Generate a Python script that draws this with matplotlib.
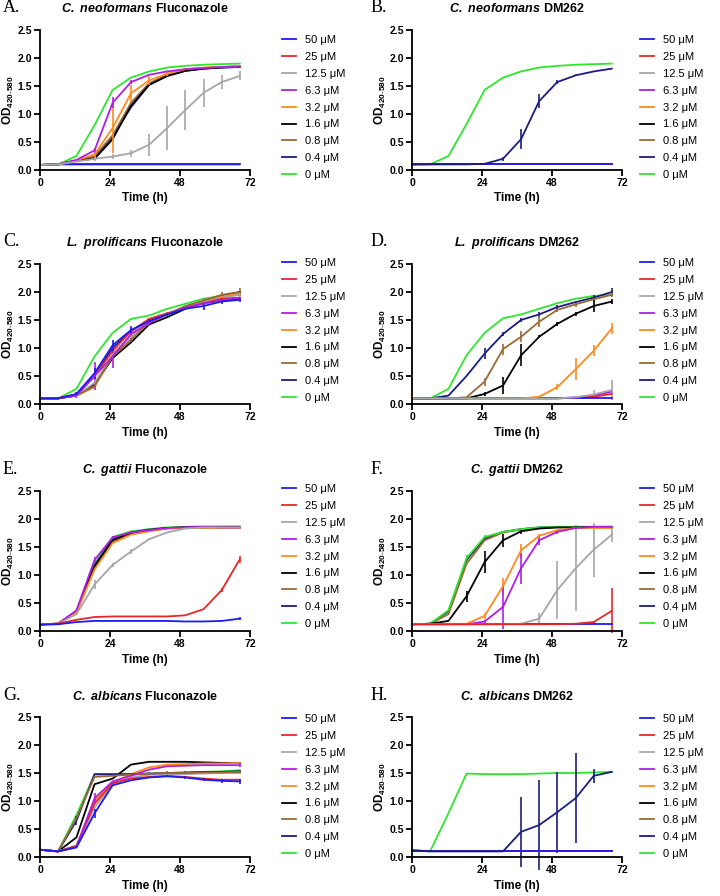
import matplotlib
matplotlib.use("Agg")
import matplotlib.pyplot as plt
from matplotlib.ticker import FormatStrFormatter

plt.rcParams["font.family"] = ["Liberation Sans", "DejaVu Sans"]
plt.rcParams["mathtext.fontset"] = "custom"
plt.rcParams["mathtext.rm"] = "Liberation Sans"
plt.rcParams["mathtext.bf"] = "Liberation Sans:bold"
plt.rcParams["mathtext.bfit"] = "Liberation Sans:italic:bold"

# sampling times (h)
times = [0, 6.2, 12.5, 18.7, 24.9, 31.2, 37.4, 43.6, 49.8, 56.1, 62.3, 68.5]

conc_labels = ["50 μM", "25 μM", "12.5 μM", "6.3 μM", "3.2 μM", "1.6 μM", "0.8 μM", "0.4 μM", "0 μM"]
colors = ["#1c1cf0", "#e8262a", "#a6a6a6", "#b01ee6", "#ff8a1e", "#000000", "#9a6a36", "#1c1c80", "#2ee62e"]

flat10 = [0.10, 0.10, 0.10, 0.10, 0.10, 0.10, 0.10, 0.10, 0.10, 0.10, 0.10, 0.10]
flat12 = [0.12, 0.12, 0.12, 0.12, 0.12, 0.12, 0.12, 0.12, 0.12, 0.12, 0.12, 0.12]

# A. C. neoformans, fluconazole (order: 50, 25, 12.5, 6.3, 3.2, 1.6, 0.8, 0.4, 0)
neo_flu = [
    [0.09, 0.10, 0.10, 0.10, 0.10, 0.10, 0.10, 0.10, 0.10, 0.10, 0.10, 0.10],
    [0.09, 0.11, 0.11, 0.11, 0.11, 0.11, 0.11, 0.11, 0.11, 0.11, 0.11, 0.11],
    [0.09, 0.10, 0.15, 0.20, 0.24, 0.30, 0.45, 0.75, 1.07, 1.38, 1.57, 1.68],
    [0.09, 0.10, 0.18, 0.35, 1.20, 1.57, 1.70, 1.76, 1.80, 1.82, 1.84, 1.85],
    [0.09, 0.10, 0.17, 0.28, 0.75, 1.37, 1.60, 1.72, 1.80, 1.83, 1.84, 1.85],
    [0.09, 0.10, 0.17, 0.20, 0.55, 1.15, 1.52, 1.68, 1.77, 1.81, 1.83, 1.84],
    [0.09, 0.10, 0.17, 0.25, 0.62, 1.20, 1.55, 1.70, 1.78, 1.82, 1.84, 1.85],
    [0.09, 0.10, 0.17, 0.22, 0.60, 1.12, 1.52, 1.68, 1.77, 1.81, 1.83, 1.84],
    [0.09, 0.10, 0.25, 0.80, 1.43, 1.65, 1.76, 1.83, 1.86, 1.88, 1.89, 1.90],
]
neo_flu_err = {
    2: [0, 0, 0, 0.04, 0.05, 0.06, 0.20, 0.40, 0.35, 0.25, 0.12, 0.08],
    3: [0, 0, 0, 0.05, 0.10, 0.03, 0, 0, 0, 0, 0, 0],
    4: [0, 0, 0, 0.11, 0.45, 0.15, 0.08, 0.04, 0, 0, 0, 0],
}

# B. C. neoformans, DM262
neo_dm = [
    flat10, flat10, flat10, flat10, flat10, flat10, flat10,
    [0.10, 0.10, 0.10, 0.10, 0.11, 0.20, 0.55, 1.23, 1.57, 1.69, 1.76, 1.81],
    [0.09, 0.10, 0.25, 0.82, 1.43, 1.65, 1.76, 1.83, 1.86, 1.88, 1.89, 1.90],
]
neo_dm_err = {
    7: [0, 0, 0, 0, 0, 0.04, 0.18, 0.12, 0.04, 0.02, 0.01, 0],
}

# C. L. prolificans, fluconazole
pro_flu = [
    [0.10, 0.10, 0.18, 0.55, 1.05, 1.32, 1.48, 1.60, 1.70, 1.75, 1.83, 1.86],
    [0.10, 0.10, 0.17, 0.50, 0.95, 1.30, 1.52, 1.62, 1.72, 1.80, 1.88, 1.90],
    [0.10, 0.10, 0.15, 0.38, 0.88, 1.20, 1.48, 1.60, 1.72, 1.82, 1.90, 1.95],
    [0.10, 0.10, 0.15, 0.50, 0.85, 1.25, 1.45, 1.60, 1.72, 1.80, 1.85, 1.90],
    [0.10, 0.10, 0.15, 0.30, 0.90, 1.20, 1.48, 1.60, 1.72, 1.82, 1.92, 1.98],
    [0.10, 0.10, 0.15, 0.35, 0.82, 1.10, 1.42, 1.55, 1.70, 1.82, 1.93, 2.00],
    [0.10, 0.10, 0.15, 0.32, 0.85, 1.15, 1.45, 1.60, 1.75, 1.85, 1.95, 2.00],
    [0.10, 0.10, 0.17, 0.50, 1.00, 1.30, 1.50, 1.60, 1.72, 1.80, 1.85, 1.88],
    [0.10, 0.10, 0.27, 0.85, 1.27, 1.52, 1.58, 1.70, 1.79, 1.88, 1.93, 1.95],
]
pro_flu_err = {
    0: [0, 0, 0.03, 0.10, 0.10, 0.05, 0.03, 0.03, 0.03, 0.08, 0.05, 0.04],
    3: [0, 0, 0.04, 0.25, 0.20, 0.15, 0.05, 0, 0, 0, 0, 0],
    6: [0, 0, 0, 0, 0, 0, 0, 0.05, 0, 0.05, 0.05, 0.08],
}

# D. L. prolificans, DM262
pro_dm = [
    flat10,
    [0.10, 0.10, 0.10, 0.10, 0.10, 0.10, 0.10, 0.10, 0.10, 0.11, 0.13, 0.18],
    [0.10, 0.10, 0.10, 0.10, 0.10, 0.10, 0.10, 0.10, 0.10, 0.12, 0.17, 0.25],
    [0.10, 0.10, 0.10, 0.10, 0.10, 0.10, 0.10, 0.10, 0.10, 0.12, 0.15, 0.22],
    [0.10, 0.10, 0.10, 0.10, 0.10, 0.10, 0.10, 0.13, 0.30, 0.62, 0.95, 1.35],
    [0.10, 0.10, 0.10, 0.10, 0.18, 0.33, 0.87, 1.20, 1.43, 1.61, 1.75, 1.83],
    [0.10, 0.10, 0.10, 0.12, 0.40, 0.98, 1.20, 1.47, 1.68, 1.78, 1.87, 1.95],
    [0.10, 0.10, 0.15, 0.50, 0.90, 1.25, 1.50, 1.60, 1.73, 1.82, 1.90, 2.00],
    [0.10, 0.10, 0.27, 0.87, 1.27, 1.53, 1.60, 1.70, 1.80, 1.88, 1.93, 1.95],
]
pro_dm_err = {
    2: [0, 0, 0, 0, 0, 0, 0, 0, 0, 0.03, 0.08, 0.17],
    4: [0, 0, 0, 0, 0, 0, 0, 0.02, 0.05, 0.20, 0.10, 0.10],
    5: [0, 0, 0, 0, 0.04, 0.15, 0.20, 0.03, 0.04, 0.04, 0.10, 0.04],
    6: [0, 0, 0, 0, 0.07, 0.10, 0.10, 0.10, 0.04, 0.04, 0.04, 0.04],
    7: [0, 0, 0, 0, 0.10, 0.03, 0.03, 0.04, 0.03, 0.02, 0.04, 0.08],
}

# E. C. gattii, fluconazole
gat_flu = [
    [0.11, 0.12, 0.16, 0.18, 0.18, 0.18, 0.18, 0.18, 0.17, 0.17, 0.18, 0.22],
    [0.12, 0.13, 0.20, 0.25, 0.26, 0.26, 0.26, 0.26, 0.28, 0.39, 0.73, 1.28],
    [0.12, 0.13, 0.30, 0.83, 1.18, 1.42, 1.64, 1.76, 1.83, 1.85, 1.85, 1.85],
    [0.12, 0.13, 0.37, 1.27, 1.67, 1.76, 1.80, 1.84, 1.85, 1.86, 1.85, 1.85],
    [0.12, 0.13, 0.33, 1.10, 1.57, 1.72, 1.78, 1.83, 1.84, 1.84, 1.84, 1.84],
    [0.12, 0.13, 0.35, 1.15, 1.62, 1.75, 1.80, 1.84, 1.85, 1.85, 1.85, 1.85],
    [0.12, 0.13, 0.33, 1.12, 1.60, 1.73, 1.79, 1.83, 1.84, 1.84, 1.84, 1.84],
    [0.12, 0.13, 0.35, 1.17, 1.64, 1.76, 1.81, 1.84, 1.85, 1.85, 1.85, 1.85],
    [0.12, 0.13, 0.35, 1.20, 1.68, 1.78, 1.82, 1.85, 1.86, 1.87, 1.87, 1.87],
]
gat_flu_err = {
    0: [0, 0, 0, 0, 0, 0, 0, 0, 0, 0, 0, 0.03],
    1: [0, 0, 0, 0, 0, 0, 0, 0, 0, 0, 0.04, 0.06],
    2: [0, 0, 0, 0.08, 0.04, 0.04, 0.02, 0, 0, 0, 0, 0],
    3: [0, 0, 0, 0.06, 0.02, 0, 0, 0, 0, 0, 0, 0],
}

# F. C. gattii, DM262
gat_dm = [
    flat12,
    [0.12, 0.12, 0.12, 0.12, 0.12, 0.12, 0.12, 0.12, 0.12, 0.13, 0.16, 0.36],
    [0.12, 0.12, 0.12, 0.12, 0.12, 0.12, 0.13, 0.22, 0.73, 1.12, 1.45, 1.72],
    [0.12, 0.12, 0.12, 0.12, 0.17, 0.43, 1.12, 1.62, 1.77, 1.84, 1.86, 1.86],
    [0.12, 0.12, 0.12, 0.13, 0.27, 0.80, 1.44, 1.70, 1.80, 1.84, 1.84, 1.84],
    [0.12, 0.13, 0.18, 0.62, 1.23, 1.62, 1.78, 1.83, 1.85, 1.85, 1.86, 1.86],
    [0.12, 0.13, 0.30, 1.20, 1.62, 1.76, 1.81, 1.84, 1.85, 1.85, 1.85, 1.85],
    [0.12, 0.13, 0.35, 1.27, 1.65, 1.77, 1.82, 1.85, 1.86, 1.86, 1.86, 1.86],
    [0.12, 0.13, 0.37, 1.30, 1.68, 1.77, 1.82, 1.85, 1.86, 1.86, 1.86, 1.86],
]
gat_dm_err = {
    1: [0, 0, 0, 0, 0, 0, 0, 0, 0, 0, 0.02, 0.40],
    2: [0, 0, 0, 0, 0, 0, 0, 0.10, 0.52, 0.77, 0.48, 0.13],
    3: [0, 0, 0, 0, 0.03, 0.40, 0.28, 0.08, 0.03, 0, 0, 0],
    4: [0, 0, 0, 0, 0.05, 0.15, 0.12, 0.03, 0, 0, 0, 0],
    5: [0, 0, 0, 0.10, 0.20, 0.12, 0.05, 0, 0, 0, 0, 0],
    8: [0, 0, 0, 0.05, 0.03, 0, 0, 0, 0, 0, 0, 0],
}

# G. C. albicans, fluconazole
alb_flu = [
    [0.13, 0.10, 0.17, 0.78, 1.28, 1.37, 1.42, 1.44, 1.42, 1.38, 1.36, 1.35],
    [0.13, 0.10, 0.20, 0.95, 1.32, 1.40, 1.43, 1.45, 1.43, 1.40, 1.38, 1.38],
    [0.13, 0.10, 0.20, 0.88, 1.30, 1.42, 1.47, 1.48, 1.48, 1.49, 1.50, 1.50],
    [0.13, 0.10, 0.18, 1.05, 1.35, 1.45, 1.56, 1.62, 1.63, 1.64, 1.64, 1.64],
    [0.13, 0.10, 0.20, 1.00, 1.33, 1.48, 1.60, 1.65, 1.66, 1.67, 1.67, 1.68],
    [0.13, 0.10, 0.35, 1.30, 1.40, 1.65, 1.70, 1.70, 1.70, 1.69, 1.68, 1.68],
    [0.13, 0.10, 0.70, 1.43, 1.45, 1.47, 1.49, 1.50, 1.50, 1.51, 1.51, 1.52],
    [0.13, 0.10, 0.65, 1.48, 1.48, 1.48, 1.49, 1.50, 1.51, 1.52, 1.52, 1.53],
    [0.13, 0.10, 0.75, 1.47, 1.47, 1.48, 1.48, 1.50, 1.50, 1.52, 1.53, 1.55],
]
alb_flu_err = {
    0: [0, 0, 0, 0.08, 0, 0, 0, 0.02, 0.03, 0.03, 0.03, 0.05],
    3: [0, 0, 0, 0.10, 0, 0, 0, 0, 0, 0, 0, 0.04],
    7: [0, 0, 0.08, 0, 0, 0, 0, 0, 0, 0, 0, 0],
    6: [0, 0, 0, 0, 0, 0, 0.02, 0.03, 0.03, 0.03, 0.03, 0.03],
}

# H. C. albicans, DM262
alb_dm = [
    flat10, flat10, flat10, flat10, flat10, flat10, flat10,
    [0.12, 0.10, 0.10, 0.10, 0.10, 0.10, 0.45, 0.57, 0.80, 1.05, 1.45, 1.52],
    [0.13, 0.10, 0.78, 1.49, 1.48, 1.48, 1.48, 1.49, 1.50, 1.50, 1.51, 1.52],
]
alb_dm_err = {
    7: [0, 0, 0, 0, 0, 0, 0.62, 0.80, 0.72, 0.80, 0.12, 0],
}

panels = [
    ("A.", "C.\\ neoformans", "Fluconazole", neo_flu, neo_flu_err),
    ("B.", "C.\\ neoformans", "DM262", neo_dm, neo_dm_err),
    ("C.", "L.\\ prolificans", "Fluconazole", pro_flu, pro_flu_err),
    ("D.", "L.\\ prolificans", "DM262", pro_dm, pro_dm_err),
    ("E.", "C.\\ gattii", "Fluconazole", gat_flu, gat_flu_err),
    ("F.", "C.\\ gattii", "DM262", gat_dm, gat_dm_err),
    ("G.", "C.\\ albicans", "Fluconazole", alb_flu, alb_flu_err),
    ("H.", "C.\\ albicans", "DM262", alb_dm, alb_dm_err),
]

W, H = 720, 896
fig = plt.figure(figsize=(7.2, 8.96), dpi=100)

row_bottom = [170, 404, 631, 857]
row_top = [30, 264, 491, 717]
legend_top = [35, 258, 484, 714]
col_left = [40, 412]
col_leg = [282, 640]
col_tag = [3, 371]
ax_w = 210

for i, (tag, species, drug, series, errs) in enumerate(panels):
    r, c = divmod(i, 2)
    x0 = col_left[c]
    ax = fig.add_axes([x0 / W, 1 - row_bottom[r] / H, ax_w / W, (row_bottom[r] - row_top[r]) / H])
    handles = [None] * len(series)
    # draw 0 µM first so the flat high-dose lines end up on top
    for k in range(len(series) - 1, -1, -1):
        yerr = errs.get(k)
        if yerr is not None:
            cont = ax.errorbar(times, series[k], yerr=yerr, color=colors[k], lw=1.3,
                               elinewidth=1.2, capsize=0, clip_on=False)
            handles[k] = cont.lines[0]
        else:
            (ln,) = ax.plot(times, series[k], color=colors[k], lw=1.3, clip_on=False)
            handles[k] = ln
    ax.set_xlim(0, 72)
    ax.set_ylim(0, 2.5)
    ax.set_xticks([0, 24, 48, 72])
    ax.set_yticks([0.0, 0.5, 1.0, 1.5, 2.0, 2.5])
    ax.yaxis.set_major_formatter(FormatStrFormatter("%.1f"))
    for s in ["top", "right"]:
        ax.spines[s].set_visible(False)
    for s in ["left", "bottom"]:
        ax.spines[s].set_linewidth(1.3)
    ax.tick_params(direction="out", length=4, width=1.3, labelsize=7.5, pad=2)
    for lab in ax.get_xticklabels() + ax.get_yticklabels():
        lab.set_fontweight("bold")
    ax.set_xlabel("Time (h)", fontsize=8.5, fontweight="bold", labelpad=3)
    ax.set_ylabel(r"OD$_{\mathbf{420\text{-}580}}$", fontsize=8.5, fontweight="bold", labelpad=1)

    fig.text((x0 + ax_w / 2) / W, 1 - (row_top[r] - 21) / H,
             r"$\mathbfit{" + species + "}$ " + drug,
             ha="center", va="center", fontsize=9, fontweight="bold")
    fig.text(col_tag[c] / W, 1 - (row_top[r] - 22) / H, tag,
             ha="left", va="center", fontsize=13, family=["Liberation Serif", "DejaVu Serif"])

    fig.legend(handles, conc_labels, loc="upper left",
               bbox_to_anchor=(col_leg[c] / W, 1 - legend_top[r] / H),
               frameon=False, fontsize=8, handlelength=1.3, handletextpad=0.8,
               labelspacing=0.62, borderpad=0, borderaxespad=0)

fig.savefig("out.png", dpi=100)
